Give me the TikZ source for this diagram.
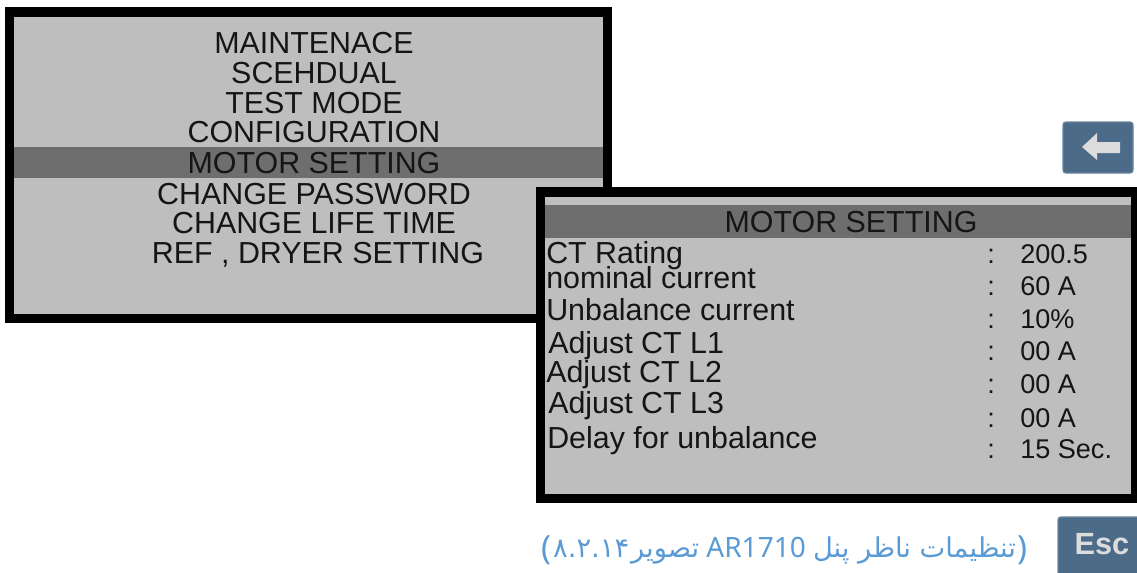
\documentclass[tikz,border=0pt]{standalone}
\usepackage{fontspec}
\setmainfont{Liberation Sans}
\newfontfamily\arabicfont[Script=Arabic]{DejaVu Sans}
\newfontfamily\capfont{Noto Sans}
\TeXXeTstate=1
\definecolor{panelgrey}{HTML}{BEBEBE}
\definecolor{bargrey}{HTML}{6E6E6E}
\definecolor{txt}{HTML}{151515}
\definecolor{btnfill}{HTML}{4B6B89}
\definecolor{btnedge}{HTML}{6A869F}
\definecolor{arrowfill}{HTML}{DCDCDC}
\definecolor{capblue}{HTML}{5B9BD5}
\tikzset{
  menutext/.style={anchor=base, inner sep=0pt, text=txt, font=\fontsize{22.8}{27}\selectfont},
  labeltext/.style={anchor=base west, inner sep=0pt, text=txt, font=\fontsize{22.8}{27}\selectfont},
  valuetext/.style={anchor=base west, inner sep=0pt, text=txt, font=\fontsize{20.3}{24}\selectfont},
  colontext/.style={anchor=base, inner sep=0pt, text=txt, font=\fontsize{20.3}{24}\selectfont},
  captext/.style={anchor=base west, inner sep=0pt, text=capblue, font=\fontsize{20.5}{24}\selectfont\arabicfont},
  caplatin/.style={anchor=base west, inner sep=0pt, text=capblue, font=\fontsize{21}{24}\selectfont\capfont},
  capbracket/.style={anchor=base west, inner sep=0pt, text=capblue, font=\fontsize{25}{28}\selectfont\capfont},
}
\begin{document}
\begin{tikzpicture}[x=0.75pt,y=-0.75pt]
\useasboundingbox (0,0) rectangle (1137,572);
\fill[white] (0,0) rectangle (1137,572);

% left panel
\fill[black] (5,7) rectangle (612,323);
\fill[panelgrey] (14,17) rectangle (603,314);
\fill[bargrey] (14,147) rectangle (603,178);
\node[menutext] (m1) at (314,53) {MAINTENACE};
\node[menutext] (m2) at (314,83) {SCEHDUAL};
\node[menutext] (m3) at (314,113) {TEST MODE};
\node[menutext] (m4) at (314,142) {CONFIGURATION};
\node[menutext] (m5) at (314,173) {MOTOR SETTING};
\node[menutext] (m6) at (314,204) {CHANGE PASSWORD};
\node[menutext] (m7) at (314,233) {CHANGE LIFE TIME};
\node[menutext] (m8) at (318,263) {REF , DRYER SETTING};

% right panel
\fill[black] (536,187) rectangle (1137,503);
\fill[panelgrey] (545,197) rectangle (1131,494);
\fill[bargrey] (545,205) rectangle (1131,238);
\node[menutext] (hdr) at (851,232) {MOTOR SETTING};

\node[labeltext] (l1) at (546,263) {CT Rating};
\node[labeltext] (l2) at (546,288) {nominal current};
\node[labeltext] (l3) at (546,320) {Unbalance current};
\node[labeltext] (l4) at (548,353) {Adjust CT L1};
\node[labeltext] (l5) at (546,382) {Adjust CT L2};
\node[labeltext] (l6) at (548,413) {Adjust CT L3};
\node[labeltext] (l7) at (547,448) {Delay for unbalance};

\foreach \yy/\nm in {263/c1,295/c2,328/c3,360/c4,393/c5,427/c6,458/c7}
  \node[colontext] (\nm) at (991,\yy) {:};

\node[valuetext] (v1) at (1020,263) {200.5};
\node[valuetext] (v2) at (1020,295) {60 A};
\node[valuetext] (v3) at (1020,328) {10\%};
\node[valuetext] (v4) at (1020,360) {00 A};
\node[valuetext] (v5) at (1020,393) {00 A};
\node[valuetext] (v6) at (1020,427) {00 A};
\node[valuetext] (v7) at (1020,458) {15 Sec.};

% back button
\filldraw[fill=btnfill, draw=btnedge, line width=0.8pt, rounded corners=2pt] (1063,122) rectangle (1133,173);
\fill[arrowfill] (1082,147) -- (1097,133) -- (1097,142) -- (1120,142) -- (1120,153) -- (1097,153) -- (1097,160) -- cycle;

% Esc button
\filldraw[fill=btnfill, draw=btnedge, line width=0.8pt, rounded corners=2pt] (1058,517) rectangle (1140,576);
\node[anchor=center, inner sep=0pt, text=arrowfill, font=\fontsize{23}{26}\selectfont\bfseries] (esc) at (1102,544) {Esc};

% caption (built piece by piece, left to right)
\node[capbracket] (p1) at (541,559) {(};
\node[captext] (dg) at ([xshift=1pt,yshift=1.5pt]p1.base east) {۸.۲.۱۴};
\node[captext] (w1) at ([xshift=1pt]dg.base east) {\beginR تصویر\endR};
\node[caplatin] (ar) at ([xshift=5pt]w1.base east) {AR1710};
\node[captext] (w2) at ([xshift=5pt]ar.base east) {\beginR تنظیمات ناظر پنل\endR};
\node[capbracket] (p2) at ([xshift=1pt,yshift=-1.5pt]w2.base east) {)};
\end{tikzpicture}
\end{document}
